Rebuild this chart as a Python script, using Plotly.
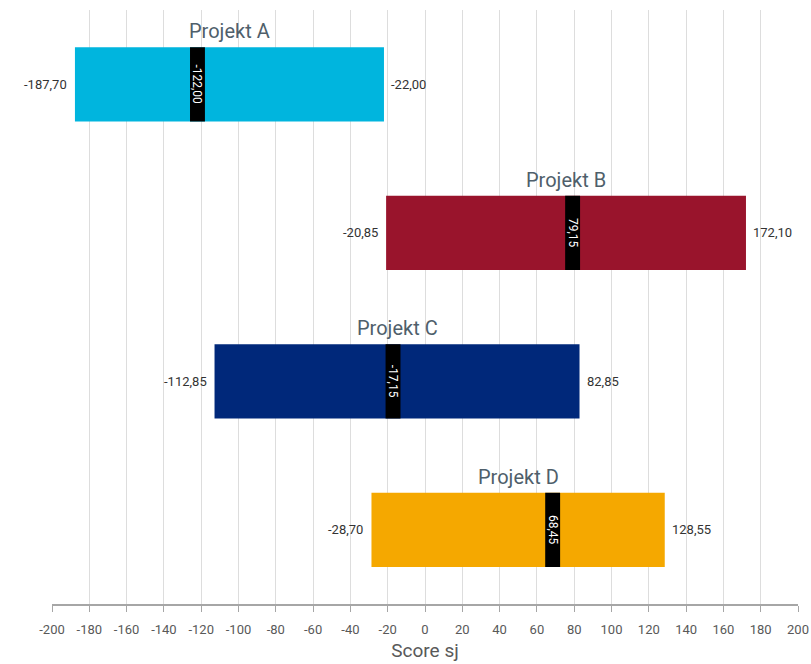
import plotly.graph_objects as go

projects = ["Projekt A", "Projekt B", "Projekt C", "Projekt D"]
low = [-187.70, -20.85, -112.85, -28.70]
high = [-22.00, 172.10, 82.85, 128.55]
mean = [-122.00, 79.15, -17.15, 68.45]
colors = ["#00B5DE", "#99142C", "#00287A", "#F5A800"]
ticks = list(range(-200, 201, 20))
marker_halfwidth = 4

def fmt(v):
    return f"{v:.2f}".replace(".", ",")

fig = go.Figure()

fig.add_trace(go.Bar(
    y=projects, base=low, x=[h - l for h, l in zip(high, low)],
    orientation="h", width=0.5, marker=dict(color=colors, line=dict(width=0)),
    hoverinfo="skip", showlegend=False,
))

fig.add_trace(go.Bar(
    y=projects, base=[m - marker_halfwidth for m in mean],
    x=[2 * marker_halfwidth] * len(mean),
    orientation="h", width=0.5, marker=dict(color="#000000", line=dict(width=0)),
    text=[fmt(m) for m in mean], textposition="inside", insidetextanchor="middle",
    textangle=90, constraintext="none",
    textfont=dict(color="white", size=12, family="Roboto"),
    hoverinfo="skip", showlegend=False,
))

label_font = dict(color="#333333", size=13, family="Roboto")
for p, l, h in zip(projects, low, high):
    fig.add_annotation(x=l, y=p, text=fmt(l), showarrow=False, xanchor="right",
                       xshift=-6, font=label_font)
    fig.add_annotation(x=h, y=p, text=fmt(h), showarrow=False, xanchor="left",
                       xshift=5, font=label_font)
    fig.add_annotation(
        x=(l + h) / 2, y=p, text=p, showarrow=False, yshift=53,
        font=dict(size=20, color="#4F5F6B", family="Roboto"),
    )

fig.update_layout(
    width=811, height=664,
    margin=dict(l=52, r=13, t=10, b=60, autoexpand=False),
    plot_bgcolor="white", paper_bgcolor="white",
    barmode="overlay",
    xaxis=dict(
        range=[-200, 200], tickvals=ticks, ticktext=[str(t) for t in ticks],
        automargin=False, ticklabeloverflow="allow",
        showgrid=True, gridcolor="#DDDDDD", gridwidth=1, zeroline=False,
        showline=True, linecolor="#A6A6A6", linewidth=2,
        ticks="outside", ticklen=6, tickcolor="#A6A6A6",
        ticklabelstandoff=6,
        tickfont=dict(size=13, color="#595959", family="Roboto"),
        title=dict(text="Score sj", font=dict(size=19, color="#595959", family="Roboto"), standoff=8),
    ),
    yaxis=dict(
        categoryorder="array", categoryarray=projects, autorange="reversed",
        showticklabels=False, showgrid=False, zeroline=False, ticks="",
        automargin=False,
    ),
)

fig.write_html("out.html")
